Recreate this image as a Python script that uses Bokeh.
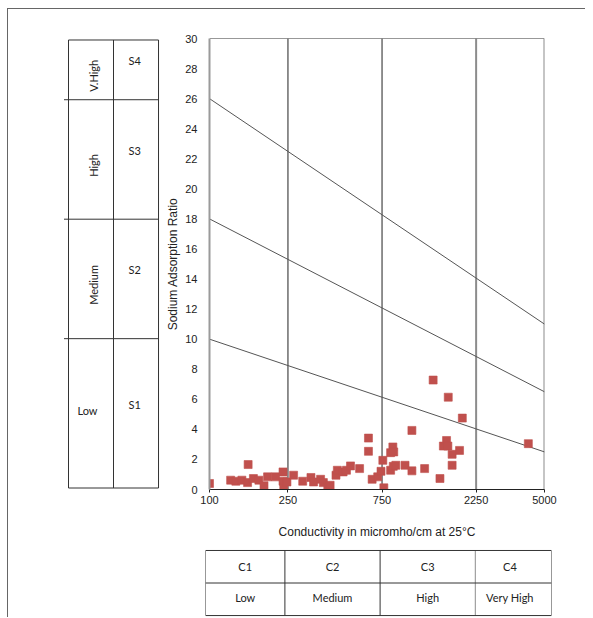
from bokeh.plotting import figure
from bokeh.layouts import row, column
from bokeh.models import Range1d, FixedTicker, NumeralTickFormatter
from bokeh.core.properties import value
from bokeh.embed import file_html
from bokeh.resources import INLINE

# ---------------- data ----------------
ec = [100, 128, 136, 146, 157, 156, 167, 178, 189, 197, 216, 236, 236, 238, 247,
      267, 297, 327, 337, 366, 378, 398, 409, 438, 445, 476, 495, 519, 577, 640,
      640, 668, 713, 741, 757, 766, 829, 851, 860, 829, 855, 881, 981, 1063, 1063,
      1233, 1362, 1475, 1625, 1535, 1593, 1618, 1700, 1700, 1854, 1915, 4140]
sar = [0.40, 0.62, 0.55, 0.62, 1.66, 0.46, 0.73, 0.62, 0.25, 0.84, 0.84, 1.17, 0.55, 0.11, 0.50,
       0.95, 0.55, 0.80, 0.50, 0.68, 0.46, 0.15, 0.28, 0.95, 1.28, 1.17, 1.28, 1.57, 1.39, 3.42,
       2.54, 0.68, 0.84, 1.21, 1.94, 0.11, 2.45, 2.83, 2.50, 1.28, 1.54, 1.61, 1.61, 3.93, 1.24,
       1.39, 7.28, 0.73, 6.14, 2.89, 3.26, 2.89, 2.34, 1.61, 2.60, 4.75, 3.05]

cond_edges = [100, 250, 750, 2250, 5000]
cond_ticks = [100, 250, 750, 2250, 5000]
sar_ticks = list(range(0, 31, 2))
sar_edges = [0, 10, 18, 26, 30]
# hazard boundary lines: SAR at EC=100 and at EC=5000
line_sar_at_100 = [10, 18, 26]
line_sar_at_5000 = [2.5, 6.5, 11]

s_classes = ["S1", "S2", "S3", "S4"]
s_names = ["Low", "Medium", "High", "V.High"]
c_classes = ["C1", "C2", "C3", "C4"]
c_names = ["Low", "Medium", "High", "Very High"]

SANS = "Liberation Sans"
CAL = "Lato"
INK = "#222222"

# ---------------- main chart ----------------
x_range = Range1d(cond_edges[0], cond_edges[-1])
p = figure(width=422, height=532, x_axis_type="log", x_range=x_range,
           y_range=Range1d(0, 30), output_backend="svg", toolbar_location=None,
           min_border_left=42, min_border_right=41, min_border_top=29, min_border_bottom=50)
p.outline_line_color = None
p.xgrid.visible = False
p.ygrid.visible = False

vx = cond_edges[1:]
vcol = ["#222222", "#222222", "#8c8c8c", "#8c8c8c"]
vw = [1, 1, 2, 2]
p.segment(x0=vx, y0=[0] * len(vx), x1=vx, y1=[30] * len(vx), line_color=vcol, line_width=vw)
p.segment(x0=[cond_edges[0]], y0=[30], x1=[cond_edges[-1]], y1=[30], line_color="#333333", line_width=1)

p.segment(x0=[cond_edges[0]] * 3, y0=line_sar_at_100,
          x1=[cond_edges[-1]] * 3, y1=line_sar_at_5000,
          line_color="#555555", line_width=1)

p.scatter(ec, sar, marker="square", size=8, fill_color="#C0504D",
          line_color="#C0504D", line_alpha=0.6)

xa = p.xaxis[0]
xa.ticker = FixedTicker(ticks=cond_ticks)
xa.formatter = NumeralTickFormatter(format="0")
xa.axis_label = "Conductivity in micromho/cm at 25°C"
xa.axis_label_text_font = SANS
xa.axis_label_text_font_size = "12px"
xa.axis_label_text_font_style = "normal"
xa.axis_label_text_color = INK
xa.axis_label_standoff = 18
xa.major_label_text_font = SANS
xa.major_label_text_font_size = "11px"
xa.major_label_text_color = INK
xa.major_label_standoff = 3
xa.major_tick_in = 0
xa.major_tick_out = 3
xa.minor_tick_out = 0
xa.minor_tick_in = 0
xa.axis_line_color = INK
xa.major_tick_line_color = INK

ya = p.yaxis[0]
ya.ticker = FixedTicker(ticks=sar_ticks)
ya.axis_label = "Sodium Adsorption Ratio"
ya.axis_label_text_font = SANS
ya.axis_label_text_font_size = "12px"
ya.axis_label_text_font_style = "normal"
ya.axis_label_text_color = INK
ya.axis_label_standoff = 2
ya.major_label_text_font = SANS
ya.major_label_text_font_size = "11px"
ya.major_label_text_color = INK
ya.major_label_standoff = 12
ya.major_tick_in = 0
ya.major_tick_out = 0
ya.minor_tick_in = 0
ya.minor_tick_out = 0
ya.axis_line_color = "#9a9a9a"
ya.axis_line_width = 2

# ---------------- left table (sodium hazard) ----------------
lp = figure(width=155, height=532, x_range=Range1d(-0.178, 2.044), y_range=Range1d(-0.1, 30.1),
            output_backend="svg", toolbar_location=None,
            min_border_left=52, min_border_right=3, min_border_top=29, min_border_bottom=50)
lp.axis.visible = False
lp.grid.visible = False
lp.outline_line_color = None
lp.segment(x0=[0, 2, 1, 0, 0], y0=[sar_edges[0], sar_edges[0], sar_edges[0], sar_edges[0], sar_edges[-1]],
           x1=[0, 2, 1, 2, 2], y1=[sar_edges[-1], sar_edges[-1], sar_edges[-1], sar_edges[0], sar_edges[-1]],
           line_color="#333333", line_width=1)
inner = sar_edges[1:-1]
lp.segment(x0=[-0.1] * len(inner), y0=inner, x1=[2] * len(inner), y1=inner,
           line_color="#333333", line_width=1)
mids = [(a + b) / 2 for a, b in zip(sar_edges[:-1], sar_edges[1:])]
lp.text(x=[1.47] * 4, y=[m + 0.6 for m in mids], text=s_classes,
        text_font=value(CAL), text_font_size="11px", text_color=INK,
        text_align="center", text_baseline="middle")
lp.text(x=[0.42], y=[mids[0] + 0.2], text=[s_names[0]],
        text_font=value(CAL), text_font_size="11px", text_color=INK,
        text_align="center", text_baseline="middle")
lp.text(x=[0.55] * 3, y=[m - 0.4 for m in mids[1:]], text=s_names[1:], angle=1.5708,
        text_font=value(CAL), text_font_size="11px", text_color=INK,
        text_align="center", text_baseline="middle")

top = row(lp, p)

# ---------------- bottom table (salinity hazard) ----------------
table_right = cond_edges[-1] * 10 ** (7 / 199.5)   # table extends a few px past the last grid line
b_edges = cond_edges[:-1] + [table_right]
bp = figure(width=577, height=76, x_axis_type="log", x_range=Range1d(cond_edges[0], table_right),
            y_range=Range1d(-0.06, 2.03),
            output_backend="svg", toolbar_location=None,
            min_border_left=197, min_border_right=34, min_border_top=8, min_border_bottom=0)
bp.axis.visible = False
bp.grid.visible = False
bp.outline_line_color = None
bp.segment(x0=b_edges, y0=[0] * 5, x1=b_edges, y1=[2] * 5,
           line_color=["#333333", "#333333", "#333333", "#8c8c8c", "#333333"], line_width=1)
bp.segment(x0=[b_edges[0]] * 3, y0=[0, 1, 2], x1=[b_edges[-1]] * 3, y1=[0, 1, 2],
           line_color="#333333", line_width=1)
cmid = [(a * b) ** 0.5 for a, b in zip(cond_edges[:-1], cond_edges[1:])]
bp.text(x=cmid, y=[1.5] * 4, text=c_classes,
        text_font=value(CAL), text_font_size="11px", text_color=INK,
        text_align="center", text_baseline="middle")
bp.text(x=cmid, y=[0.55] * 4, text=c_names,
        text_font=value(CAL), text_font_size="11px", text_color=INK,
        text_align="center", text_baseline="middle")

root = column(top, bp, styles={"margin-left": "7px", "margin-top": "8px",
                               "border-left": "1px solid #666666", "border-top": "1px solid #666666"})

open("out.html", "w").write(file_html(root, INLINE))
